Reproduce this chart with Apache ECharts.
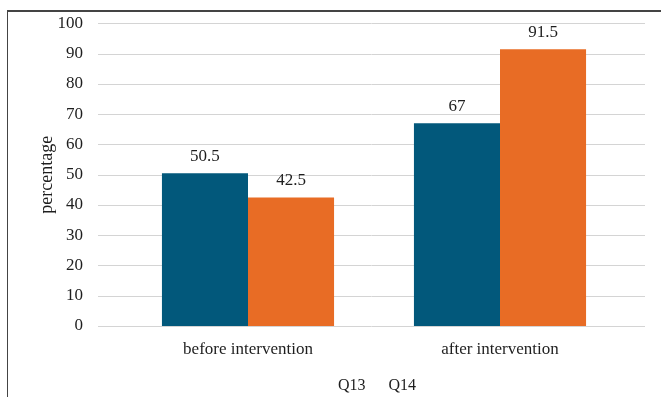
<!DOCTYPE html>
<html>
<head>
<meta charset="utf-8">
<script src="https://cdn.jsdelivr.net/npm/echarts@6/dist/echarts.min.js"></script>
<style>
  html, body { margin: 0; padding: 0; background: #fff; }
  #frame { position: absolute; left: 7px; top: 10px; width: 700px; height: 400px;
           border-left: 1px solid #444; border-top: 2px solid #444; }
  #chart { position: absolute; left: 0; top: 0; width: 661px; height: 397px; }
</style>
</head>
<body>
<div id="frame"></div>
<div id="chart"></div>
<script>
const categories = ['before intervention', 'after intervention'];
const q13 = [50.5, 67];
const q14 = [42.5, 91.5];
const seriesNames = ['Q13', 'Q14'];
const yTicks = { min: 0, max: 100, interval: 10 };

const font = '"Liberation Serif", "Times New Roman", serif';
const textColor = '#1e1e1e';
const chart = echarts.init(document.getElementById('chart'), null, { renderer: 'canvas' });

chart.setOption({
  animation: false,
  textStyle: { fontFamily: font },
  legend: {
    data: seriesNames,
    top: 373,
    left: 328,
    icon: 'rect',
    itemWidth: 0,
    itemHeight: 0,
    itemGap: 18,
    textStyle: { fontFamily: font, fontSize: 16, color: textColor }
  },
  grid: [
    { left: 98, right: 16, top: 23.5, bottom: 71 },
    { left: 122, right: 35, top: 23.5, bottom: 71 }
  ],
  xAxis: [
    { type: 'value', gridIndex: 0, show: false, min: 0, max: 1 },
    {
      type: 'category', gridIndex: 1, data: categories,
      axisLine: { show: false }, axisTick: { show: false },
      axisLabel: { fontFamily: font, fontSize: 17, color: textColor, margin: 15 }
    }
  ],
  yAxis: [
    {
      type: 'value', gridIndex: 0, min: yTicks.min, max: yTicks.max, interval: yTicks.interval,
      name: 'percentage', nameLocation: 'middle', nameGap: 42, nameMoveOverlap: false,
      nameTextStyle: { fontFamily: font, fontSize: 18, color: textColor },
      axisLine: { show: false }, axisTick: { show: false },
      axisLabel: { fontFamily: font, fontSize: 17, color: textColor, margin: 15 },
      splitLine: { lineStyle: { color: '#d4d4d4', width: 1 } }
    },
    {
      type: 'value', gridIndex: 1, min: yTicks.min, max: yTicks.max, interval: yTicks.interval,
      show: false, splitLine: { show: false }
    }
  ],
  series: [
    {
      name: seriesNames[0], type: 'bar', xAxisIndex: 1, yAxisIndex: 1, data: q13,
      barGap: '0%', barCategoryGap: '31.7%',
      itemStyle: { color: '#02587B' },
      label: { show: true, position: 'top', distance: 8, fontFamily: font, fontSize: 17, color: textColor }
    },
    {
      name: seriesNames[1], type: 'bar', xAxisIndex: 1, yAxisIndex: 1, data: q14,
      barGap: '0%', barCategoryGap: '31.7%',
      itemStyle: { color: '#E86C25' },
      label: { show: true, position: 'top', distance: 8, fontFamily: font, fontSize: 17, color: textColor }
    }
  ]
});
</script>
</body>
</html>
